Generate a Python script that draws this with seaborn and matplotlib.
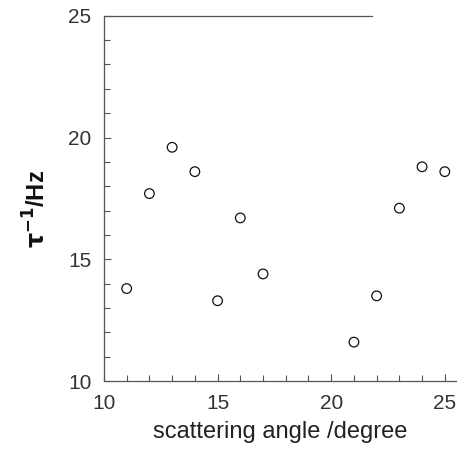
import matplotlib
matplotlib.use("Agg")
import matplotlib.pyplot as plt
from matplotlib.ticker import MultipleLocator
import seaborn as sns
import pandas as pd

# scattering angle (degree) and relaxation rate tau^-1 (Hz)
angle = [11, 12, 13, 14, 15, 16, 17, 21, 22, 23, 24, 25]
rate = [13.8, 17.7, 19.6, 18.6, 13.3, 16.7, 14.4, 11.6, 13.5, 17.1, 18.8, 18.6]

df = pd.DataFrame({"angle": angle, "rate": rate})

sns.set_style("ticks")
plt.rcParams["font.family"] = ["Liberation Sans", "DejaVu Sans"]

fig = plt.figure(figsize=(4.58, 4.51), dpi=100)
ax = fig.add_axes([0.227, 0.155, 0.769, 0.81])

sns.scatterplot(data=df, x="angle", y="rate", ax=ax, marker="o", s=48,
                facecolor="none", edgecolor="#111111", linewidth=0.9)

ax.set_xlim(10, 25.5)
ax.set_ylim(10, 25)
ax.xaxis.set_major_locator(MultipleLocator(5))
ax.xaxis.set_minor_locator(MultipleLocator(1))
ax.yaxis.set_major_locator(MultipleLocator(5))
ax.yaxis.set_minor_locator(MultipleLocator(1))
ax.tick_params(which="both", direction="in", color="#555555", width=0.8)
ax.tick_params(which="major", length=5, labelsize=15, labelcolor="#333333", pad=9)
ax.tick_params(which="minor", length=4)

for side in ("left", "bottom", "top"):
    ax.spines[side].set_color("#555555")
    ax.spines[side].set_linewidth(0.9)
ax.spines["right"].set_visible(False)
ax.spines["top"].set_bounds(10, 21.8)

ax.set_xlabel("scattering angle /degree", fontsize=17, color="#222222")
ax.xaxis.set_label_coords(0.5, -0.108)
ax.set_ylabel(r"$\mathbf{\tau^{-1}}$/Hz", fontsize=17, fontweight="bold",
              color="#111111")
ax.yaxis.set_label_coords(-0.152, 0.47)

fig.savefig("out.png", dpi=100)
